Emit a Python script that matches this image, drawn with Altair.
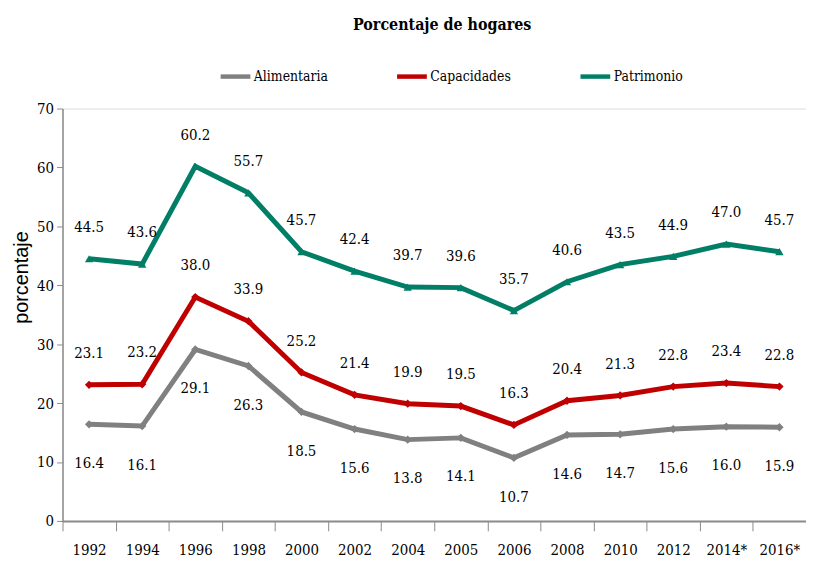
import altair as alt
import pandas as pd

years = ["1992", "1994", "1996", "1998", "2000", "2002", "2004", "2005",
         "2006", "2008", "2010", "2012", "2014*", "2016*"]
alimentaria = [16.4, 16.1, 29.1, 26.3, 18.5, 15.6, 13.8, 14.1, 10.7, 14.6, 14.7, 15.6, 16.0, 15.9]
capacidades = [23.1, 23.2, 38.0, 33.9, 25.2, 21.4, 19.9, 19.5, 16.3, 20.4, 21.3, 22.8, 23.4, 22.8]
patrimonio = [44.5, 43.6, 60.2, 55.7, 45.7, 42.4, 39.7, 39.6, 35.7, 40.6, 43.5, 44.9, 47.0, 45.7]
series = ["Alimentaria", "Capacidades", "Patrimonio"]
y_ticks = [0, 10, 20, 30, 40, 50, 60, 70]

colors = ["#808080", "#C00000", "#007E66"]
shapes = ["diamond", "diamond", "triangle-up"]

rows = []
for name, vals in zip(series, [alimentaria, capacidades, patrimonio]):
    for yr, v in zip(years, vals):
        rows.append({"year": yr, "serie": name, "marcador": name, "valor": v})
df = pd.DataFrame(rows)

SERIF = "DejaVu Serif Condensed"
SANS = "Liberation Sans"

x_enc = alt.X(
    "year:N", sort=years,
    scale=alt.Scale(type="band", paddingInner=0, paddingOuter=0),
    axis=alt.Axis(title=None, labelAngle=0, tickBand="extent", tickSize=10,
                  tickColor="#8a8a8a", domainColor="#8a8a8a", domainWidth=2,
                  labelFont=SERIF, labelFontSize=15, labelPadding=12,
                  labelColor="black"),
)
y_enc = alt.Y(
    "valor:Q",
    scale=alt.Scale(domain=[0, 70], nice=False, zero=True),
    axis=alt.Axis(title="porcentaje", values=y_ticks, grid=False, tickSize=6,
                  tickColor="#8a8a8a", domainColor="#8a8a8a", domainWidth=1.5,
                  labelFont=SERIF, labelFontSize=15, labelPadding=3,
                  labelColor="black",
                  titleFont=SANS, titleFontSize=20, titleFontWeight="normal",
                  titleColor="black", titleAngle=270, titleX=-41, titleY=170,
                  titleAlign="center", titleBaseline="middle"),
)
color_enc = alt.Color(
    "serie:N",
    scale=alt.Scale(domain=series, range=colors),
    legend=alt.Legend(title=None, orient="none", legendX=157, legendY=-50,
                      direction="horizontal", symbolType="stroke",
                      symbolSize=900, symbolStrokeWidth=4.5,
                      labelFont=SERIF, labelFontSize=14, labelColor="black",
                      columnPadding=60, labelOffset=1),
)

base = alt.Chart(df).encode(x=x_enc, y=y_enc)

lines = base.mark_line(strokeWidth=5).encode(color=color_enc)
points = base.mark_point(filled=True, size=70, opacity=1).encode(
    fill=alt.Fill("marcador:N", scale=alt.Scale(domain=series, range=colors), legend=None),
    shape=alt.Shape("marcador:N", scale=alt.Scale(domain=series, range=shapes), legend=None),
)

text_style = dict(font=SERIF, fontSize=15, color="black", baseline="middle", align="center")
labels_top = base.transform_filter(
    alt.FieldOneOfPredicate(field="serie", oneOf=["Capacidades", "Patrimonio"])
).mark_text(dy=-32, **text_style).encode(text=alt.Text("valor:Q", format=".1f"))
labels_bottom = base.transform_filter(
    alt.FieldEqualPredicate(field="serie", equal="Alimentaria")
).mark_text(dy=39, **text_style).encode(text=alt.Text("valor:Q", format=".1f"))

chart = alt.layer(lines, points, labels_top, labels_bottom).properties(
    width=750, height=416,
    title=alt.TitleParams("Porcentaje de hogares", font=SERIF, fontSize=16,
                          fontWeight="bold", anchor="middle", offset=26, dx=8,
                          color="black"),
    autosize=alt.AutoSizeParams(type="none"),
    padding={"left": 55, "top": 99, "right": 0, "bottom": 40},
).resolve_scale(fill="independent", shape="independent").configure_view(
    stroke=None
).configure(background="white")

chart.save("out.html", embed_options={"renderer": "svg", "actions": False})
